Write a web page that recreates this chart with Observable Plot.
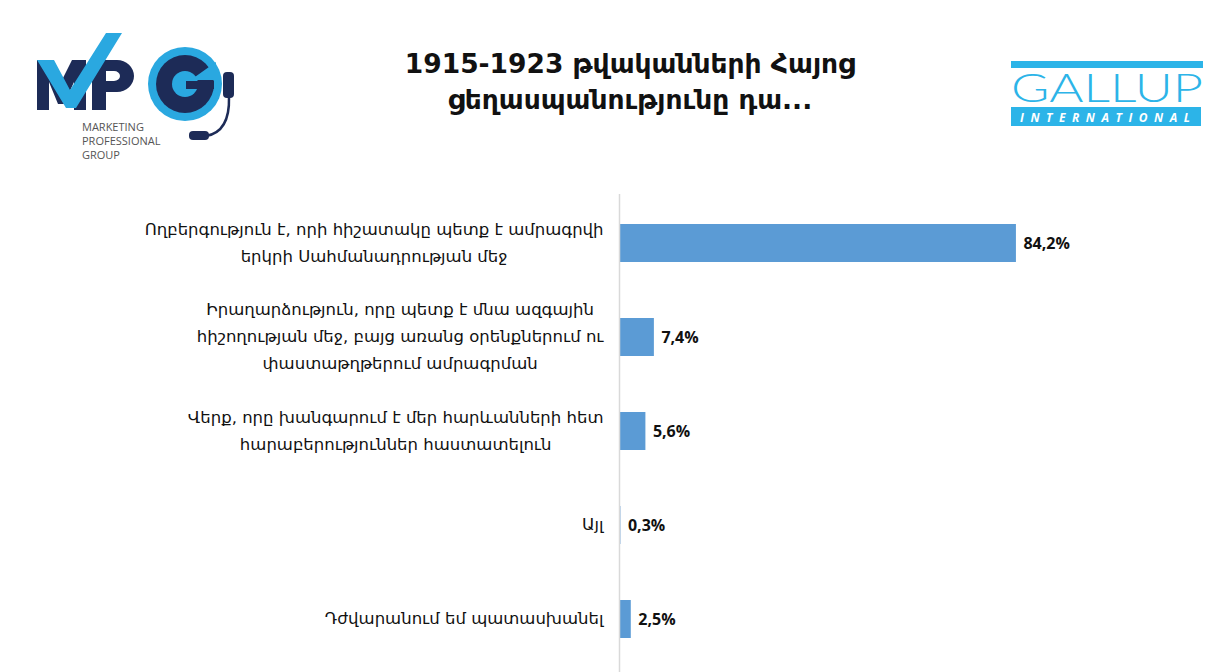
<!DOCTYPE html>
<html><head><meta charset="utf-8">
<script src="https://cdn.jsdelivr.net/npm/d3@7"></script>
<script src="https://cdn.jsdelivr.net/npm/@observablehq/plot@0.6"></script>
<style>
body{margin:0;width:1229px;height:672px;position:relative;overflow:hidden;background:#fff;font-family:"DejaVu Sans",sans-serif}
#title{position:absolute;left:180px;width:900px;top:46px;text-align:center;font:bold 26.5px/36px "DejaVu Sans",sans-serif;color:#111}
#chart{position:absolute;left:0;top:185px}
#logos{position:absolute;left:0;top:0}
</style></head><body>
<svg id="logos" width="1229" height="185">
  <!-- MPG logo -->
  <g>
    <circle cx="185" cy="84" r="37" fill="#2aa8e0"/>
    <circle cx="185" cy="84" r="29" fill="#1d2b57"/>
    <circle cx="185" cy="84" r="13" fill="#2aa8e0"/>
    <polygon points="185,84 216,62 216,80 185,80" fill="#2aa8e0"/>
    <rect x="186" y="81" width="28" height="8" fill="#1d2b57"/>
    <polygon points="37,110 37,60 52,60 61,82 72,60 86,60 86,110 74,110 74,82 64,104 58,104 49,82 49,110" fill="#1d2b57"/>
    <path d="M92,60 H117 A17,16 0 0 1 117,92 H106 V110 H92 Z M106,71 V81 H114 A6,5 0 0 0 114,71 Z" fill="#1d2b57" fill-rule="evenodd"/>
    <polygon points="37,60 54,60 70,90 106,33 122,33 76,108 66,108" fill="#2aa8e0"/>
    <rect x="223" y="72" width="11" height="26" rx="4" fill="#1d2b57"/>
    <path d="M229,97 Q230,132 206,136" stroke="#1d2b57" stroke-width="2.5" fill="none"/>
    <rect x="189" y="131" width="20" height="9" rx="4" fill="#1d2b57"/>
    <text x="82" y="131" font-family="Open Sans" font-size="11" fill="#555">MARKETING</text>
    <text x="82" y="145" font-family="Open Sans" font-size="11" fill="#555">PROFESSIONAL</text>
    <text x="82" y="159" font-family="Open Sans" font-size="11" fill="#555">GROUP</text>
  </g>
  <!-- GALLUP logo -->
  <g>
    <rect x="1011" y="61" width="192" height="7" fill="#2cb4e8"/>
    <text x="1011" y="102" font-family="Lato" font-weight="300" font-size="40" fill="#2cb4e8" textLength="192" lengthAdjust="spacingAndGlyphs">GALLUP</text>
    <rect x="1011" y="107" width="190" height="19" fill="#2cb4e8"/>
    <text x="1020" y="122" font-family="Open Sans" font-weight="bold" font-style="italic" font-size="12" fill="#fff" textLength="170" lengthAdjust="spacing">INTERNATIONAL</text>
  </g>
</svg>
<div id="title">1915-1923 թվականների Հայոց<br>ցեղասպանությունը դա...</div>
<div id="chart"></div>
<script>
const labelLines = [
  ["Ողբերգություն է, որի հիշատակը պետք է ամրագրվի", "երկրի Սահմանադրության մեջ"],
  ["Իրաղարձություն, որը պետք է մնա ազգային", "հիշողության մեջ, բայց առանց օրենքներում ու", "փաստաթղթերում ամրագրման"],
  ["Վերք, որը խանգարում է մեր հարևանների հետ", "հարաբերություններ հաստատելուն"],
  ["Այլ"],
  ["Դժվարանում եմ պատասխանել"]
];
const values = [84.2, 7.4, 5.6, 0.3, 2.5];
const valueLabels = ["84,2%", "7,4%", "5,6%", "0,3%", "2,5%"];

const categories = labelLines.map(l => l.join("\n"));
const data = categories.map((c, i) => ({category: c, value: values[i], label: valueLabels[i], lines: labelLines[i]}));

const labelSize = 16.5;
const ctx = document.createElement("canvas").getContext("2d");
ctx.font = `${labelSize}px 'DejaVu Sans'`;
const maxW = lines => Math.max(...lines.map(s => ctx.measureText(s).width));

const labelMarks = data.map(d => Plot.text([d], {
  x: () => 0, y: "category", text: "category",
  textAnchor: "middle", lineAnchor: "middle", lineHeight: 1.64,
  dx: -(16 + maxW(d.lines) / 2), dy: -4,
  fontSize: labelSize, fontFamily: "DejaVu Sans", fill: "#111"
}));

const chart = Plot.plot({
  width: 1229, height: 487,
  marginLeft: 619, marginRight: 0, marginTop: 11, marginBottom: 6,
  x: {domain: [0, 129.4], axis: null},
  y: {domain: categories, axis: null, paddingInner: 0.6, paddingOuter: 0.3},
  marks: [
    Plot.barX(data, {x: "value", y: "category", fill: "#5b9bd5"}),
    Plot.ruleX([0], {stroke: "#d9d9d9", strokeWidth: 1.5, insetTop: -2, insetBottom: -6}),
    Plot.text(data, {x: "value", y: "category", text: "label", textAnchor: "start", dx: 7,
      fontSize: 16, fontWeight: "bold", fontFamily: "Open Sans", fill: "#111"}),
    ...labelMarks
  ]
});
document.getElementById("chart").appendChild(chart);
</script>
</body></html>
